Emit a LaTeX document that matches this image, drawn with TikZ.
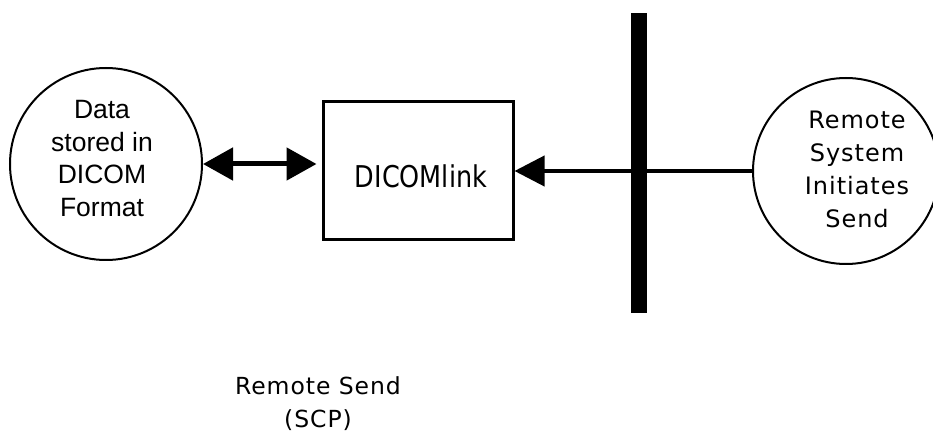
\documentclass[tikz,border=0pt]{standalone}
\usepackage{fontspec}
\newfontfamily\helvfont{Liberation Sans}
\newfontfamily\pixfont[LetterSpace=4]{DejaVu Sans}
\newfontfamily\pixnarrow[FakeStretch=0.85]{DejaVu Sans}
\usetikzlibrary{arrows.meta}
\tikzset{
  circnode/.style={draw, line width=2pt, circle, inner sep=0pt},
  boxnode/.style={draw, line width=3pt, rectangle, inner sep=0pt},
  bigtip/.style={-{Triangle[length=30pt,width=30pt]}},
  bothtip/.style={{Triangle[length=30pt,width=32pt]}-{Triangle[length=30pt,width=32pt]}},
  txtnode/.style={align=center, inner sep=0pt},
}
\begin{document}
\begin{tikzpicture}[x=1pt,y=-1pt]
\useasboundingbox (0,0) rectangle (933,435);
% nodes
\node[circnode, minimum size=192pt] (data) at (106,164) {};
\node[txtnode, font=\helvfont\fontsize{26.5}{32.5}\selectfont] (datatxt) at (102,158.5) {Data\\stored in\\DICOM\\Format};
\node[boxnode, minimum width=190pt, minimum height=138pt] (box) at (418,171) {};
\node[txtnode, font=\pixnarrow\fontsize{30}{36}\selectfont] (boxtxt) at (421,176) {DICOMlink};
\node[circnode, minimum size=186pt] (remote) at (846,171) {};
\node[txtnode, font=\pixfont\fontsize{24}{33}\selectfont] (remotetxt) at (857,169.5) {Remote\\System\\Initiates\\Send};
\node[txtnode, font=\pixfont\fontsize{23.5}{33}\selectfont] (caption) at (318,404) {Remote Send\\(SCP)};
% network bar
\node[fill=black, minimum width=16pt, minimum height=300pt, inner sep=0pt] (bar) at (639,163) {};
% connectors
\draw[bothtip, line width=5pt] (data.east) -- ([xshift=-5pt]data.east -| box.west);
\draw[bigtip, line width=4pt] (remote.west) -- (box.east |- remote.west);
\end{tikzpicture}
\end{document}
